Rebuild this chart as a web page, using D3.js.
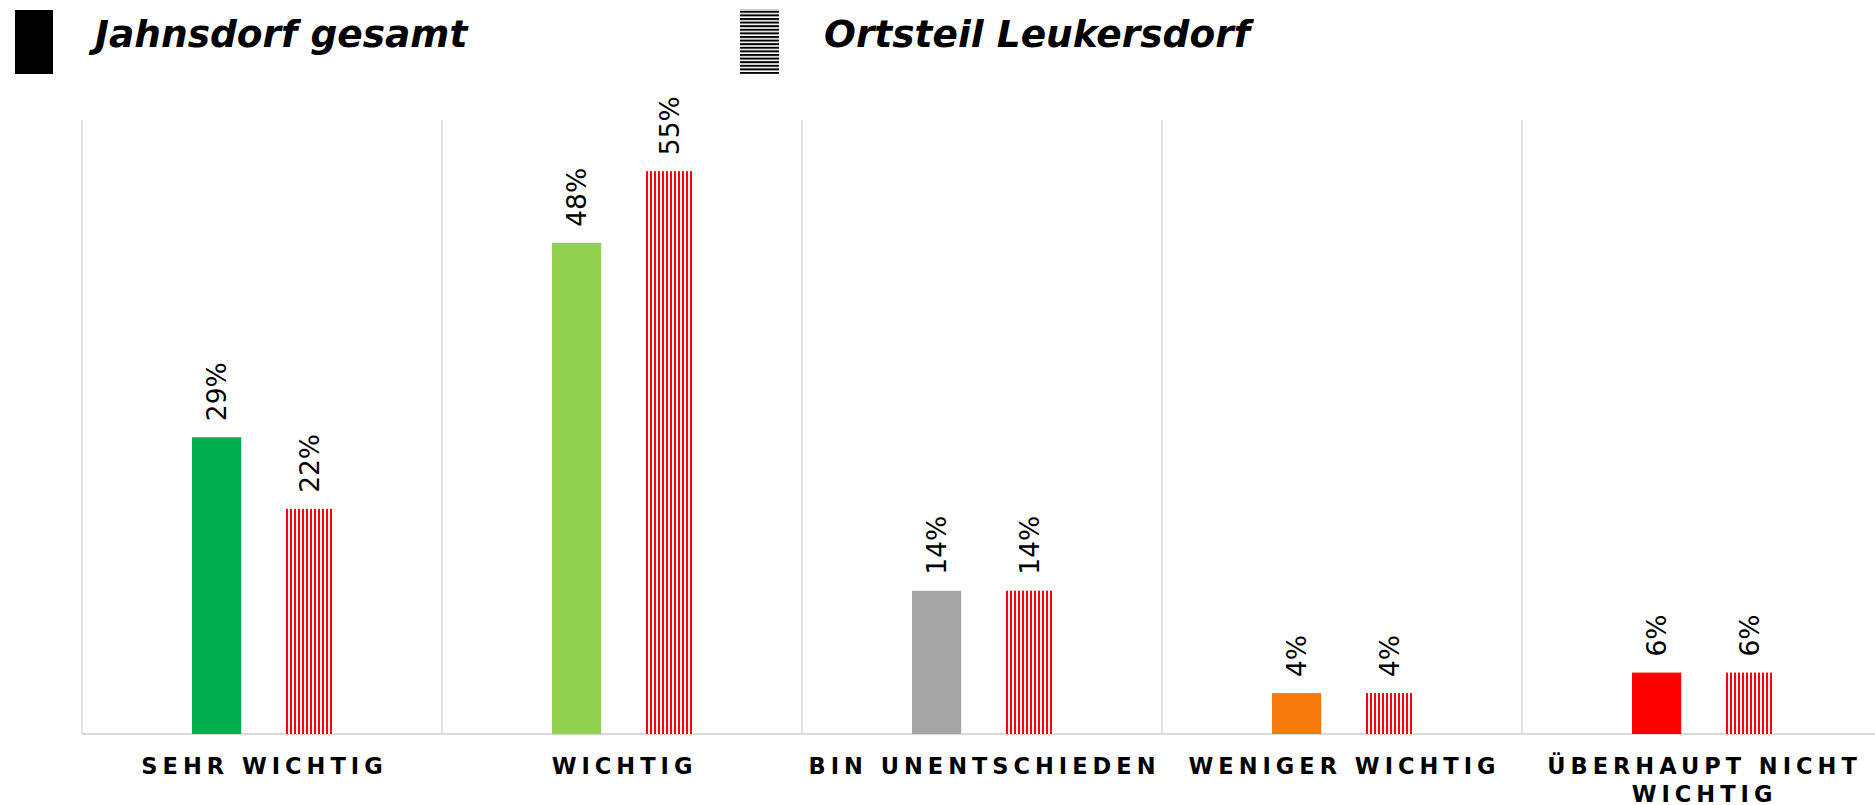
<!DOCTYPE html>
<html>
<head>
<meta charset="utf-8">
<script src="https://cdn.jsdelivr.net/npm/d3@7"></script>
<style>
  html, body { margin: 0; padding: 0; background: #fff; }
  svg { display: block; font-family: "DejaVu Sans", Verdana, sans-serif; }
</style>
</head>
<body>
<div id="canvas"></div>
<script>
// data
var categories = ['SEHR WICHTIG', 'WICHTIG', 'BIN UNENTSCHIEDEN', 'WENIGER WICHTIG', 'ÜBERHAUPT NICHT WICHTIG'];
var seriesNames = ['Jahnsdorf gesamt', 'Ortsteil Leukersdorf'];
var jahnsdorf = [29, 48, 14, 4, 6];
var leukersdorf = [22, 55, 14, 4, 6];
var catColors = ['#00B050', '#92D050', '#A5A5A5', '#F8790C', '#FF0000'];

var W = 1875, H = 805;
var m = {t:120, l:82, b:71};
var bandW = 360;

var svg = d3.select('#canvas').append('svg')
    .attr('width', W).attr('height', H);

var defs = svg.append('defs');
// red vertical stripes for the Leukersdorf bars
var pv = defs.append('pattern').attr('id','vstripe')
    .attr('patternUnits','userSpaceOnUse').attr('width',4).attr('height',10);
pv.append('rect').attr('width',4).attr('height',10).attr('fill','#fff');
pv.append('rect').attr('width',2).attr('height',10).attr('fill','#FF0000');
// black horizontal stripes for the legend swatch
var ph = defs.append('pattern').attr('id','hstripe')
    .attr('patternUnits','userSpaceOnUse').attr('width',10).attr('height',3.6);
ph.append('rect').attr('width',10).attr('height',3.6).attr('fill','#fff');
ph.append('rect').attr('width',10).attr('height',2).attr('fill','#000');

var x = d3.scaleBand().domain(categories)
    .range([m.l, m.l + bandW*categories.length]).padding(0);
var x1 = d3.scaleBand().domain(seriesNames)
    .range([110, 252]).paddingInner(0.47).paddingOuter(0);
var y = d3.scaleLinear().domain([0, 60]).range([H - m.b, m.t]);

// gridlines (category separators)
var bounds = categories.map(function(c){ return x(c); });
svg.selectAll('.grid').data(bounds).enter().append('line')
    .attr('class','grid')
    .attr('x1',function(d){return d;}).attr('x2',function(d){return d;})
    .attr('y1', y(60)).attr('y2', y(0))
    .attr('stroke','#D9D9D9').attr('stroke-width',1.5);
svg.append('line')
    .attr('x1', m.l).attr('x2', x.range()[1])
    .attr('y1', y(0)).attr('y2', y(0))
    .attr('stroke','#D9D9D9').attr('stroke-width',2);

var rows = categories.map(function(c,i){
    return {cat:c, i:i, vals:[
        {s:seriesNames[0], v:jahnsdorf[i], fill:catColors[i]},
        {s:seriesNames[1], v:leukersdorf[i], fill:'url(#vstripe)'}
    ]};
});

var groups = svg.selectAll('.cat').data(rows).enter().append('g')
    .attr('class','cat')
    .attr('transform',function(d){return 'translate('+x(d.cat)+',0)';});

groups.selectAll('rect').data(function(d){return d.vals;}).enter().append('rect')
    .attr('x',function(d){return x1(d.s);})
    .attr('width', x1.bandwidth())
    .attr('y',function(d){return y(d.v);})
    .attr('height',function(d){return y(0) - y(d.v);})
    .attr('fill',function(d){return d.fill;});

groups.selectAll('.lbl').data(function(d){return d.vals;}).enter().append('text')
    .attr('class','lbl')
    .attr('transform',function(d){
        return 'translate('+(x1(d.s) + x1.bandwidth()/2)+','+(y(d.v) - 16)+') rotate(-90)';
    })
    .attr('dy','0.35em')
    .style('font-size','26.5px').style('fill','#000')
    .text(function(d){return d.v + '%';});

// category labels
var ls = 5.0;
svg.selectAll('.xlab').data(categories).enter().append('text')
    .attr('class','xlab')
    .attr('x',function(d){return x(d) + bandW/2 + ls/2;})
    .attr('y', 774)
    .attr('text-anchor','middle')
    .style('font-size','22.5px').style('font-weight','bold')
    .style('letter-spacing', ls + 'px').style('fill','#000')
    .each(function(d){ wrap(d3.select(this), d, 390); });

function wrap(t, str, maxW){
    var words = str.split(' '), line = [];
    var xx = t.attr('x');
    var tsp = t.append('tspan').attr('x', xx);
    words.forEach(function(w){
        line.push(w);
        tsp.text(line.join(' '));
        if (tsp.node().getComputedTextLength() > maxW && line.length > 1){
            line.pop();
            tsp.text(line.join(' '));
            line = [w];
            tsp = t.append('tspan').attr('x', xx).attr('dy','1.25em').text(w);
        }
    });
}

// legend
var leg = [
    {name:seriesNames[0], fill:'#000', sx:15, sy:10, sw:38, sh:64, tx:95},
    {name:seriesNames[1], fill:'url(#hstripe)', sx:740, sy:9, sw:39, sh:65, tx:824}
];
var lg = svg.selectAll('.leg').data(leg).enter().append('g').attr('class','leg');
lg.append('rect')
    .attr('x',function(d){return d.sx;}).attr('y',function(d){return d.sy;})
    .attr('width',function(d){return d.sw;}).attr('height',function(d){return d.sh;})
    .attr('fill',function(d){return d.fill;});
lg.append('text')
    .attr('x',function(d){return d.tx;}).attr('y',47)
    .style('font-size','37.5px').style('font-weight','bold').style('font-style','italic')
    .style('fill','#000')
    .text(function(d){return d.name;});
</script>
</body>
</html>
